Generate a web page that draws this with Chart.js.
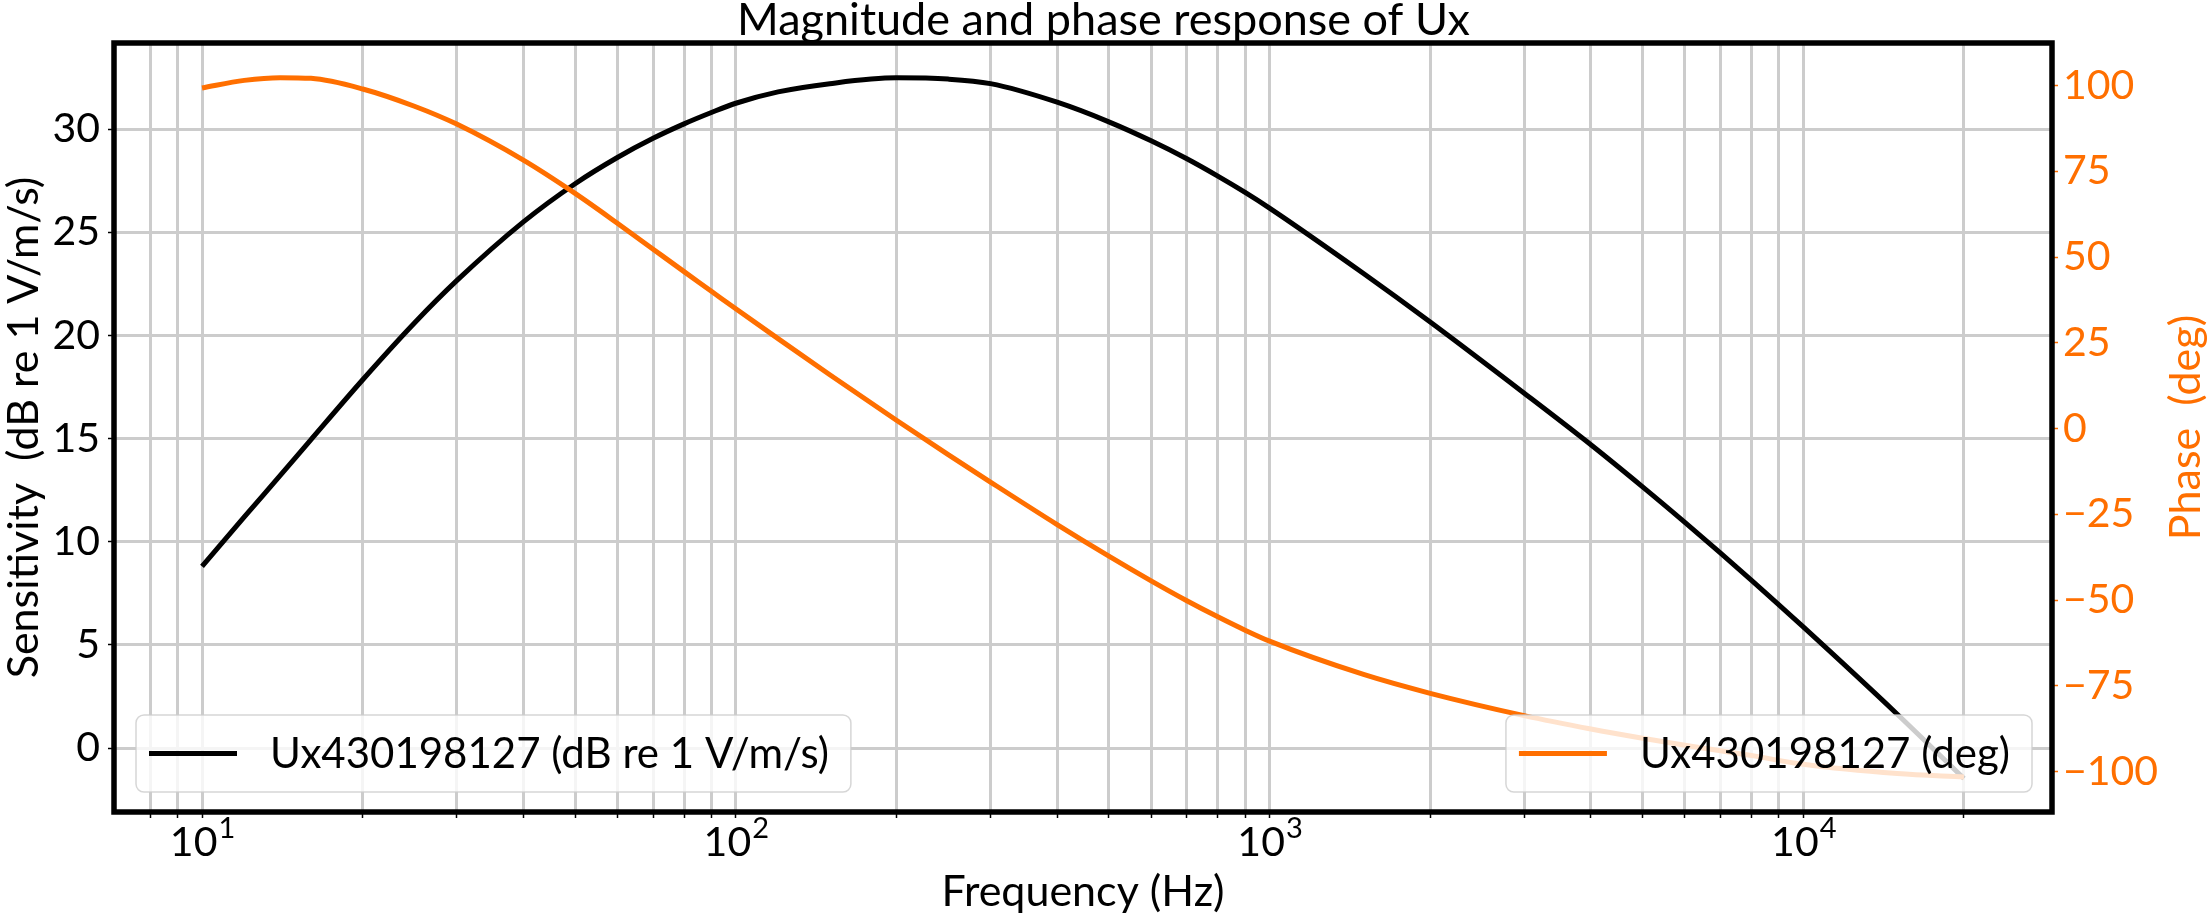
<!DOCTYPE html>
<html>
<head>
<meta charset="utf-8">
<title>Magnitude and phase response of Ux</title>
<script src="https://cdn.jsdelivr.net/npm/chart.js@4.4.1/dist/chart.umd.min.js"></script>
<style>
    html, body { margin: 0; padding: 0; background: #ffffff; }
    canvas { display: block; }
</style>
</head>
<body>
<canvas id="response-chart" width="2207" height="917"></canvas>
<script>
// Data
const frequencies = [10, 12, 14, 16, 20, 25, 30, 40, 50, 60, 70, 80, 90, 100, 120, 150, 200, 250, 300, 400,
    500, 600, 700, 800, 900, 1000, 1500, 2000, 3000, 4000, 5000, 6000, 7000, 8000, 10000, 15000, 20000];
const magnitudeDb = [8.8, 11.2, 13.2, 14.95, 17.85, 20.6, 22.65, 25.5, 27.35, 28.62, 29.55, 30.25, 30.8, 31.25, 31.8, 32.2, 32.48, 32.42, 32.2, 31.3,
    30.35, 29.43, 28.56, 27.72, 26.93, 26.17, 23.0, 20.65, 17.2, 14.7, 12.66, 10.94, 9.45, 8.13, 5.87, 1.64, -1.48];
const phaseDeg = [99.3, 101.5, 102.3, 102.1, 99.0, 93.96, 88.75, 78.25, 68.55, 59.86, 52.29, 45.74, 40.03, 34.9, 26.2, 15.7, 2.4, -7.6, -15.6, -28.0,
    -37.2, -44.4, -50.2, -54.9, -58.8, -62.0, -71.7, -77.2, -83.7, -87.6, -90.3, -92.35, -93.95, -95.35, -97.9, -100.6, -101.6];

// Axis ticks
const gridFrequencies = [8, 9, 10, 20, 30, 40, 50, 60, 70, 80, 90, 100, 200, 300, 400, 500, 600, 700, 800, 900,
    1000, 2000, 3000, 4000, 5000, 6000, 7000, 8000, 9000, 10000, 20000];
const decadeTicks = [10, 100, 1000, 10000];
const decadeExponents = [1, 2, 3, 4];
const magnitudeTicks = [0, 5, 10, 15, 20, 25, 30];
const phaseTicks = [-100, -75, -50, -25, 0, 25, 50, 75, 100];

const magnitudeLabel = 'Ux430198127 (dB re 1 V/m/s)';
const phaseLabel = 'Ux430198127 (deg)';

const FONT = "Lato, 'DejaVu Sans', sans-serif";
const ORANGE = '#ff6f00';
const GRID = '#cccccc';

function minusSign(v) {
    return v < 0 ? '\u2212' + Math.abs(v) : String(v);
}

function roundRect(ctx, x, y, w, h, r) {
    ctx.beginPath();
    ctx.moveTo(x + r, y);
    ctx.lineTo(x + w - r, y);
    ctx.arcTo(x + w, y, x + w, y + r, r);
    ctx.lineTo(x + w, y + h - r);
    ctx.arcTo(x + w, y + h, x + w - r, y + h, r);
    ctx.lineTo(x + r, y + h);
    ctx.arcTo(x, y + h, x, y + h - r, r);
    ctx.lineTo(x, y + r);
    ctx.arcTo(x, y, x + r, y, r);
    ctx.closePath();
}

function legendWidth(ctx, label) {
    ctx.font = `42px ${FONT}`;
    return 13 + 88 + 33 + ctx.measureText(label).width + 22;
}

function drawLegend(ctx, left, top, color, label) {
    const w = legendWidth(ctx, label);
    const h = 77;
    roundRect(ctx, left, top, w, h, 8);
    ctx.fillStyle = 'rgba(255,255,255,0.8)';
    ctx.fill();
    ctx.strokeStyle = 'rgba(204,204,204,0.8)';
    ctx.lineWidth = 1.5;
    ctx.stroke();
    const midY = top + h / 2;
    ctx.strokeStyle = color;
    ctx.lineWidth = 5;
    ctx.beginPath();
    ctx.moveTo(left + 13, midY);
    ctx.lineTo(left + 13 + 88, midY);
    ctx.stroke();
    ctx.font = `42px ${FONT}`;
    ctx.fillStyle = '#000';
    ctx.textAlign = 'left';
    ctx.textBaseline = 'middle';
    ctx.fillText(label, left + 13 + 88 + 33, midY + 1);
}

// Spines, decade labels, right axis title and the two legends
const decorPlugin = {
    id: 'decor',
    afterDraw(chart) {
        const { ctx, chartArea: ca, scales } = chart;
        ctx.save();

        ctx.strokeStyle = '#000';
        ctx.lineWidth = 5.5;
        ctx.strokeRect(ca.left, ca.top, ca.right - ca.left, ca.bottom - ca.top);

        // 10^n labels
        ctx.fillStyle = '#000';
        ctx.textBaseline = 'alphabetic';
        ctx.textAlign = 'left';
        decadeTicks.forEach((v, i) => {
            const x = scales.x.getPixelForValue(v);
            ctx.font = `41px ${FONT}`;
            const wb = ctx.measureText('10').width;
            ctx.font = `29px ${FONT}`;
            const exp = String(decadeExponents[i]);
            const we = ctx.measureText(exp).width;
            const x0 = x - (wb + we) / 2;
            ctx.font = `41px ${FONT}`;
            ctx.fillText('10', x0, ca.bottom + 44);
            ctx.font = `29px ${FONT}`;
            ctx.fillText(exp, x0 + wb + 1, ca.bottom + 26);
        });

        // right axis title, reading bottom to top
        ctx.save();
        ctx.translate(scales.y1.right - 21, (ca.top + ca.bottom) / 2);
        ctx.rotate(-Math.PI / 2);
        ctx.font = `43px ${FONT}`;
        ctx.fillStyle = ORANGE;
        ctx.textAlign = 'center';
        ctx.textBaseline = 'middle';
        ctx.fillText('Phase  (deg)', 0, 0);
        ctx.restore();

        // legends
        const legendTop = ca.bottom - 97;
        drawLegend(ctx, ca.left + 22, legendTop, '#000', magnitudeLabel);
        drawLegend(ctx, ca.right - 20 - legendWidth(ctx, phaseLabel), legendTop, ORANGE, phaseLabel);

        ctx.restore();
    }
};

const ctx = document.getElementById('response-chart');

new Chart(ctx, {
    type: 'line',
    data: {
        datasets: [
            {
                label: magnitudeLabel,
                data: frequencies.map((f, i) => ({ x: f, y: magnitudeDb[i] })),
                yAxisID: 'y',
                borderColor: '#000000',
                borderWidth: 5,
                pointRadius: 0,
                cubicInterpolationMode: 'monotone',
                fill: false,
                order: 2
            },
            {
                label: phaseLabel,
                data: frequencies.map((f, i) => ({ x: f, y: phaseDeg[i] })),
                yAxisID: 'y1',
                borderColor: ORANGE,
                borderWidth: 5,
                pointRadius: 0,
                cubicInterpolationMode: 'monotone',
                fill: false,
                order: 1
            }
        ]
    },
    options: {
        responsive: false,
        animation: false,
        devicePixelRatio: 1,
        layout: { padding: 0 },
        plugins: {
            legend: { display: false },
            tooltip: { enabled: false },
            title: {
                display: true,
                text: 'Magnitude and phase response of Ux',
                color: '#000',
                font: { family: FONT, size: 45, weight: 'normal', lineHeight: 0.9 },
                padding: { top: 0, bottom: 2.5 }
            }
        },
        scales: {
            x: {
                type: 'logarithmic',
                min: 6.84,
                max: 29240,
                afterBuildTicks: s => { s.ticks = gridFrequencies.map(v => ({ value: v })); },
                afterFit: s => { s.height = 105; },
                ticks: { autoSkip: false, maxRotation: 0, callback: () => '' },
                grid: { color: GRID, lineWidth: 3, tickLength: 6, tickColor: '#000', tickWidth: 1.5 },
                border: { display: false },
                title: {
                    display: true,
                    text: 'Frequency (Hz)',
                    color: '#000',
                    font: { family: FONT, size: 43, lineHeight: 1.1 },
                    padding: { top: 0, bottom: 1.5 }
                }
            },
            y: {
                position: 'left',
                min: -3.1,
                max: 34.17,
                afterBuildTicks: s => { s.ticks = magnitudeTicks.map(v => ({ value: v })); },
                afterFit: s => { s.width = 114; },
                ticks: { color: '#000', font: { family: FONT, size: 41 }, padding: 8 },
                grid: { color: GRID, lineWidth: 3, tickLength: 6, tickColor: '#000', tickWidth: 1.5 },
                border: { display: false },
                title: {
                    display: true,
                    text: 'Sensitivity  (dB re 1 V/m/s)',
                    color: '#000',
                    font: { family: FONT, size: 43, lineHeight: 1.1 },
                    padding: 0
                }
            },
            y1: {
                position: 'right',
                min: -111.8,
                max: 112.4,
                afterBuildTicks: s => { s.ticks = phaseTicks.map(v => ({ value: v })); },
                afterFit: s => { s.width = 155; },
                ticks: { color: ORANGE, font: { family: FONT, size: 41 }, padding: 5, callback: v => minusSign(v) },
                grid: { drawOnChartArea: false, color: ORANGE, tickLength: 6, tickColor: ORANGE, tickWidth: 1.5 },
                border: { display: false }
            }
        }
    },
    plugins: [decorPlugin]
});
</script>
</body>
</html>
